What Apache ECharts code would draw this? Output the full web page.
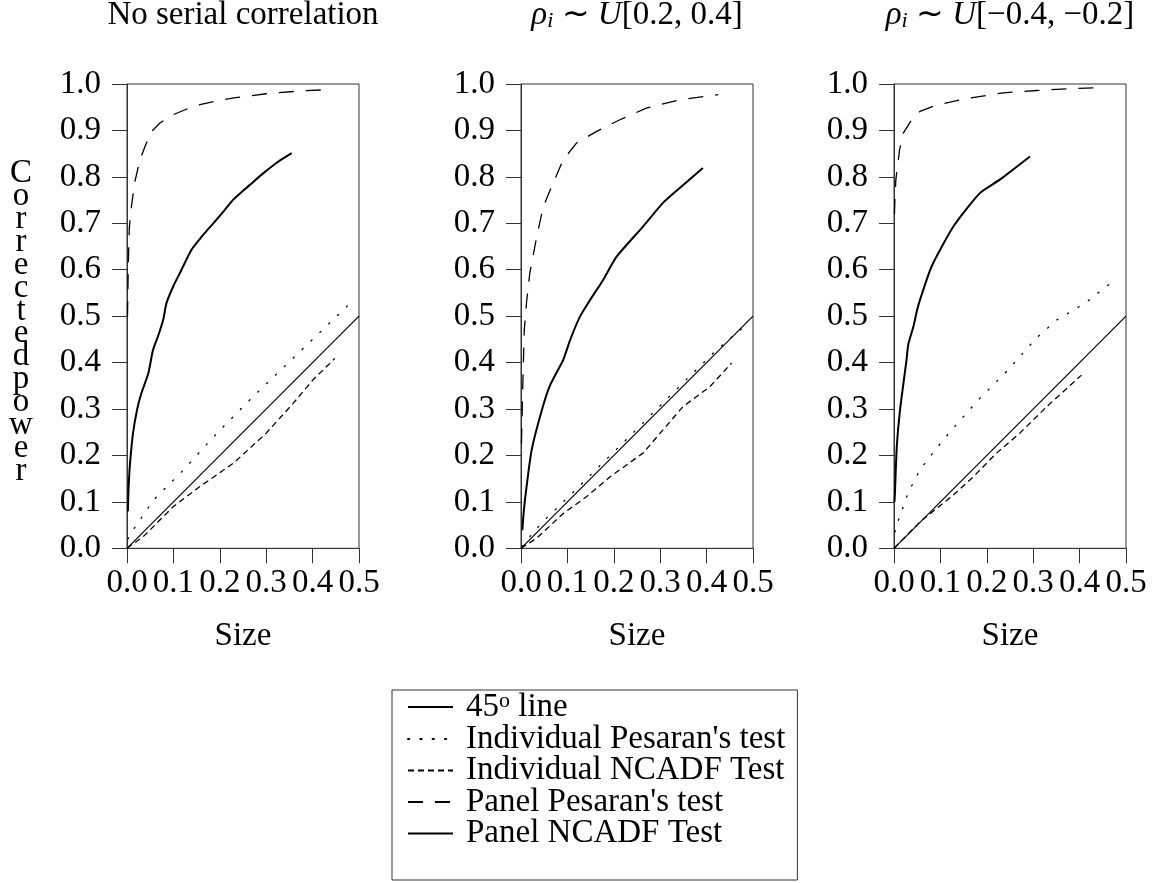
<!DOCTYPE html>
<html>
<head>
<meta charset="utf-8">
<script src="https://cdn.jsdelivr.net/npm/echarts@6.0.0/dist/echarts.min.js"></script>
<style>
html,body{margin:0;padding:0;background:#fff;}
#chart{width:1155px;height:883px;}
</style>
</head>
<body>
<div id="chart"></div>
<script>
// ---- tick labels ----
const sizeTickLabels = ['0.0','0.1','0.2','0.3','0.4','0.5'];
const powerTickLabels = ['0.0','0.1','0.2','0.3','0.4','0.5','0.6','0.7','0.8','0.9','1.0'];

// ---- panel titles ----
const panelTitles = [
  'No serial correlation',
  '{it|ρ}{sub|i} ∼ {it|U}[0.2, 0.4]',
  '{it|ρ}{sub|i} ∼ {it|U}[−0.4, −0.2]'
];

// ---- series names ----
const seriesNames = ['45° line', "Individual Pesaran's test", 'Individual NCADF Test', "Panel Pesaran's test", 'Panel NCADF Test'];

// ---- data: [size, corrected power] ----
const line45 = [[0,0],[0.5,0.5]];

// Panel 1: No serial correlation
const p1IndPesaran = [[0.002,0.02],[0.013,0.039],[0.057,0.104],[0.118,0.165],[0.194,0.248],[0.272,0.327],[0.373,0.424],[0.477,0.524]];
const p1IndNcadf = [[0,0],[0.035,0.025],[0.1,0.09],[0.157,0.133],[0.229,0.183],[0.3,0.248],[0.358,0.312],[0.401,0.363],[0.448,0.409]];
const p1PanelPesaran = [[0.001,0.50],[0.002,0.56],[0.003,0.62],[0.005,0.69],[0.010,0.74],[0.017,0.79],[0.028,0.837],[0.039,0.866],[0.053,0.898],[0.071,0.916],[0.10,0.934],[0.143,0.952],[0.19,0.963],[0.23,0.970],[0.30,0.979],[0.373,0.985],[0.437,0.988]];
const p1PanelNcadf = [[0.002,0.08],[0.003,0.12],[0.006,0.176],[0.013,0.248],[0.022,0.30],[0.031,0.334],[0.046,0.377],[0.056,0.427],[0.068,0.46],[0.078,0.492],[0.085,0.528],[0.100,0.565],[0.114,0.593],[0.139,0.643],[0.16,0.67],[0.186,0.700],[0.21,0.728],[0.229,0.751],[0.25,0.77],[0.265,0.783],[0.294,0.808],[0.325,0.832],[0.355,0.851]];

// Panel 2: rho ~ U[0.2,0.4]
const p2IndPesaran = [[0.003,0.004],[0.019,0.025],[0.037,0.046],[0.055,0.065],[0.077,0.086],[0.15,0.158],[0.25,0.257],[0.35,0.357],[0.42,0.426],[0.477,0.474]];
const p2IndNcadf = [[0,0],[0.034,0.022],[0.091,0.075],[0.141,0.111],[0.192,0.154],[0.263,0.205],[0.306,0.255],[0.349,0.305],[0.407,0.348],[0.454,0.399]];
const p2PanelPesaran = [[0.001,0.226],[0.004,0.356],[0.007,0.47],[0.012,0.53],[0.019,0.593],[0.034,0.672],[0.048,0.736],[0.066,0.779],[0.091,0.837],[0.12,0.873],[0.163,0.898],[0.213,0.923],[0.27,0.948],[0.342,0.966],[0.425,0.977]];
const p2PanelNcadf = [[0.003,0.039],[0.006,0.08],[0.012,0.133],[0.023,0.212],[0.045,0.298],[0.063,0.352],[0.091,0.406],[0.106,0.449],[0.127,0.499],[0.149,0.535],[0.177,0.578],[0.206,0.628],[0.263,0.693],[0.306,0.744],[0.349,0.782],[0.392,0.819]];

// Panel 3: rho ~ U[-0.4,-0.2]
const p3IndPesaran = [[0.002,0.035],[0.011,0.065],[0.02,0.09],[0.031,0.121],[0.056,0.169],[0.092,0.216],[0.128,0.259],[0.182,0.320],[0.243,0.381],[0.307,0.453],[0.351,0.492],[0.412,0.528],[0.455,0.562],[0.479,0.580]];
const p3IndNcadf = [[0,0],[0.056,0.057],[0.092,0.086],[0.128,0.115],[0.171,0.154],[0.221,0.205],[0.271,0.248],[0.329,0.305],[0.404,0.373]];
const p3PanelPesaran = [[0.001,0.72],[0.002,0.75],[0.004,0.794],[0.012,0.858],[0.02,0.894],[0.038,0.923],[0.056,0.941],[0.092,0.955],[0.164,0.970],[0.236,0.981],[0.307,0.986],[0.379,0.990],[0.444,0.992]];
const p3PanelNcadf = [[0.001,0.10],[0.002,0.119],[0.006,0.219],[0.013,0.298],[0.027,0.406],[0.031,0.44],[0.042,0.478],[0.049,0.51],[0.056,0.535],[0.081,0.607],[0.128,0.693],[0.185,0.765],[0.228,0.794],[0.293,0.844]];

const panels = [
  [line45, p1IndPesaran, p1IndNcadf, p1PanelPesaran, p1PanelNcadf],
  [line45, p2IndPesaran, p2IndNcadf, p2PanelPesaran, p2PanelNcadf],
  [line45, p3IndPesaran, p3IndNcadf, p3PanelPesaran, p3PanelNcadf]
];

const yLabelLetters = ['C','o','r','r','e','c','t','e','d','p','o','w','e','r'];

// ---- styling / layout ----
const FONT = '"Liberation Serif", "Times New Roman", serif';
const lineStyles = [
  {color:'#000', width:1.2, type:'solid'},
  {color:'#000', width:1.3, type:[1.3, 11], cap:'round'},
  {color:'#000', width:1.3, type:[6, 4]},
  {color:'#000', width:1.3, type:[15, 12]},
  {color:'#000', width:2, type:'solid'}
];
const smoothness = [0, 0, 0, 0, 0.2];
const gridLefts = [127, 521, 894];
const gridW = 232, gridTop = 84, gridH = 464.3;

const grids = [], xAxes = [], yAxes = [], series = [], titles = [];
panels.forEach((pd, i) => {
  grids.push({left: gridLefts[i], top: gridTop, width: gridW, height: gridH, show: true,
    borderColor: '#333', borderWidth: 1, backgroundColor: 'transparent', containLabel: false, outerBoundsMode: 'none'});
  xAxes.push({type: 'value', gridIndex: i, min: 0, max: 0.5, interval: 0.1,
    name: 'Size', nameLocation: 'middle', nameGap: 72,
    nameTextStyle: {fontFamily: FONT, fontSize: 33, color: '#000'},
    axisLine: {show: true, onZero: false, lineStyle: {color: '#333', width: 1}},
    axisTick: {show: true, inside: false, length: 15, lineStyle: {color: '#333', width: 1}},
    splitLine: {show: false},
    axisLabel: {show: true, margin: 19, fontFamily: FONT, fontSize: 33, color: '#000',
      formatter: v => sizeTickLabels[Math.round(v * 10)]}
  });
  yAxes.push({type: 'value', gridIndex: i, min: 0, max: 1, interval: 0.1,
    axisLine: {show: true, onZero: false, lineStyle: {color: '#333', width: 1}},
    axisTick: {show: true, inside: false, length: 15, lineStyle: {color: '#333', width: 1}},
    splitLine: {show: false},
    axisLabel: {show: true, margin: 26, fontFamily: FONT, fontSize: 33, color: '#000',
      formatter: v => powerTickLabels[Math.round(v * 10)]}
  });
  titles.push({text: panelTitles[i], left: gridLefts[i] + gridW / 2, top: -1, textAlign: 'center', padding: 0,
    textStyle: {fontFamily: FONT, fontSize: 33, fontWeight: 'normal', color: '#000', lineHeight: 33,
      rich: {
        it: {fontFamily: FONT, fontSize: 33, fontStyle: 'italic', color: '#000', lineHeight: 33},
        sub: {fontFamily: FONT, fontSize: 22, fontStyle: 'italic', color: '#000', verticalAlign: 'bottom', lineHeight: 14}
      }}
  });
  pd.forEach((data, k) => {
    series.push({type: 'line', name: seriesNames[k], xAxisIndex: i, yAxisIndex: i, data: data,
      showSymbol: false, symbol: 'none', smooth: smoothness[k], animation: false, silent: true,
      itemStyle: {color: '#000'},
      lineStyle: lineStyles[k], z: 2 + k});
  });
});

const chart = echarts.init(document.getElementById('chart'), null, {renderer: 'canvas'});
chart.setOption({
  backgroundColor: '#fff',
  animation: false,
  title: titles,
  grid: grids,
  xAxis: xAxes,
  yAxis: yAxes,
  series: series,
  legend: {
    data: seriesNames, orient: 'vertical', left: 392, top: 690, height: 400,
    padding: [0, 12, 30, 15], itemGap: -1.5, itemWidth: 45, itemHeight: 14,
    borderColor: '#333', borderWidth: 1, borderRadius: 0, backgroundColor: '#fff',
    selectedMode: false,
    itemStyle: {color: 'rgba(0,0,0,0)', borderColor: 'rgba(0,0,0,0)', borderWidth: 0, opacity: 0},
    textStyle: {fontFamily: FONT, fontSize: 33, color: '#000', padding: [0, 0, 0, 8],
      rich: {
        n: {fontFamily: FONT, fontSize: 33, color: '#000', lineHeight: 26},
        sup: {fontFamily: FONT, fontSize: 22, color: '#000', lineHeight: 12, padding: [0, 0, 12, 0]}
      }},
    formatter: name => name === '45° line' ? '{n|45}{sup|o}{n| line}' : name
  },
  graphic: [{
    type: 'text', x: 21, y: 162, silent: true,
    style: {text: yLabelLetters.join('\n'), font: '33px ' + FONT, fill: '#000', align: 'center', verticalAlign: 'top', lineHeight: 22.9}
  }]
});
</script>
</body>
</html>
